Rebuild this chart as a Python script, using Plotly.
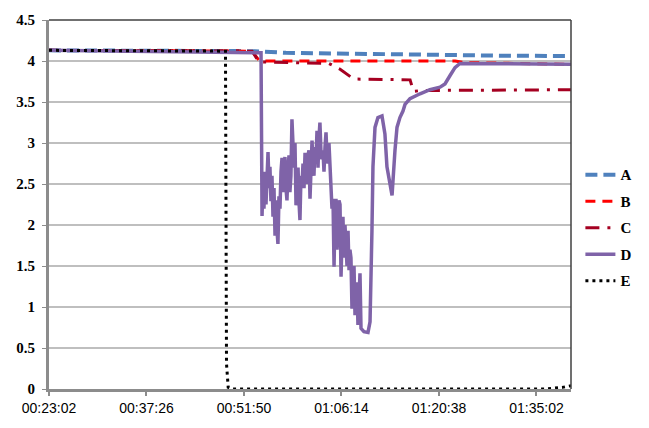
import pandas as pd
import plotly.graph_objects as go

start_time = "2000-01-01 00:23:02"
tick_labels = ["00:23:02", "00:37:26", "00:51:50", "01:06:14", "01:20:38", "01:35:02"]
x_end_s = 4626

# elapsed seconds from 00:23:02, and values
a_t = [0, 1825, 2100, 3000, 4000, 4626]
a_v = [4.13, 4.12, 4.10, 4.08, 4.065, 4.06]

b_t = [0, 1800, 1860, 1900, 2300, 3600, 3686, 4626]
b_v = [4.13, 4.12, 4.01, 4.00, 4.00, 4.00, 3.98, 3.96]

c_t = [0, 1800, 1860, 2400, 2480, 2580, 2700, 3200, 3230, 3300, 4626]
c_v = [4.13, 4.12, 3.99, 3.98, 3.97, 3.90, 3.78, 3.77, 3.63, 3.64, 3.65]

d_t = [0, 895, 1825, 1879, 1888, 1897, 1905, 1914, 1923, 1932, 1941, 1950, 1958,
       1967, 1976, 1985, 1994, 2003, 2012, 2020, 2029, 2038, 2047, 2056, 2065,
       2074, 2082, 2091, 2100, 2109, 2118, 2127, 2135, 2144, 2153, 2162, 2171,
       2180, 2189, 2198, 2207, 2215, 2224, 2233, 2242, 2251, 2260, 2269, 2277,
       2286, 2295, 2304, 2313, 2322, 2331, 2340, 2348, 2357, 2366, 2375, 2384,
       2392, 2401, 2410, 2419, 2428, 2437, 2446, 2455, 2463, 2472, 2481, 2490,
       2499, 2508, 2517, 2526, 2534, 2543, 2552, 2561, 2570, 2579, 2588, 2596,
       2605, 2614, 2623, 2632, 2641, 2650, 2659, 2667, 2676, 2685, 2694, 2703,
       2712, 2720, 2729, 2738, 2747, 2756, 2765, 2778, 2791, 2827, 2845, 2862,
       2871, 2889, 2915, 2951, 2977, 2995, 3022, 3040, 3066, 3084, 3110, 3137,
       3155, 3199, 3288, 3376, 3465, 3509, 3553, 3598, 3642, 3731, 4174, 4626]
d_v = [4.13, 4.12, 4.11, 4.10, 2.11, 2.55, 2.20, 2.65, 2.25, 2.75, 2.89, 2.45, 2.71,
       2.29, 2.60, 2.10, 2.45, 1.87, 2.30, 1.95, 1.77, 2.35, 2.20, 2.65, 2.82,
       2.40, 2.75, 2.83, 2.45, 2.30, 2.70, 2.85, 2.40, 2.60, 3.29, 2.80, 2.70,
       3.00, 2.24, 2.55, 2.70, 2.30, 2.06, 2.60, 2.48, 2.75, 2.45, 2.88, 2.55,
       2.50, 2.85, 2.91, 2.32, 2.75, 3.03, 2.70, 2.60, 2.95, 2.80, 3.15, 2.70,
       3.05, 3.25, 2.90, 2.80, 2.91, 2.65, 2.95, 3.13, 2.85, 2.75, 3.00, 2.70,
       2.60, 2.20, 2.32, 1.49, 2.10, 2.32, 1.70, 1.93, 2.30, 2.25, 1.37, 1.80,
       2.10, 1.60, 2.00, 1.75, 1.50, 1.93, 1.45, 1.70, 1.60, 0.98, 1.35, 1.50,
       0.90, 1.20, 1.30, 0.78, 1.10, 1.41, 0.74, 0.72, 0.70, 0.69, 0.82, 1.93,
       2.71, 3.19, 3.31, 3.33, 3.11, 2.71, 2.48, 2.36, 2.91, 3.19, 3.31, 3.39,
       3.47, 3.54, 3.60, 3.65, 3.68, 3.72, 3.82, 3.92, 3.97, 3.97, 3.96, 3.96]

e_t = [0, 1564, 1573, 1580, 1588, 1618, 4400, 4550, 4626]
e_v = [4.13, 4.12, 0.31, 0.10, 0.02, 0.0, 0.0, 0.02, 0.04]

t0 = pd.Timestamp(start_time)
def tx(ts):
    return [t0 + pd.Timedelta(seconds=s) for s in ts]

fig = go.Figure()
series = [
    ("A", a_t, a_v, "#4F81BD", 4, "12px,6px"),
    ("B", b_t, b_v, "#FF0000", 3, "10px,7px"),
    ("C", c_t, c_v, "#A50021", 3, "14px,8px,3px,8px"),
    ("D", d_t, d_v, "#7F63A8", 3.5, "solid"),
    ("E", e_t, e_v, "#000000", 3, "3px,4px"),
]
for name, t, v, col, w, dash in series:
    fig.add_trace(go.Scatter(x=tx(t), y=v, mode="lines", name=name,
                             legendgroup=name,
                             line=dict(color=col, width=w, dash=dash)))

fig.update_layout(
    width=649, height=428,
    margin=dict(l=49, r=78, t=16, b=32),
    paper_bgcolor="white", plot_bgcolor="white",
    showlegend=True,
    legend=dict(x=1.018, y=0.625, xanchor="left", yanchor="top",
                traceorder="grouped", tracegroupgap=4,
                font=dict(family="Liberation Serif", size=15, color="black",
                          weight="bold"),
                bgcolor="rgba(0,0,0,0)"),
    xaxis=dict(
        type="date",
        range=[t0, t0 + pd.Timedelta(seconds=x_end_s)],
        tickmode="array",
        tickvals=[t0 + pd.Timedelta(seconds=864 * i) for i in range(len(tick_labels))],
        ticktext=tick_labels,
        showgrid=False, zeroline=False,
        showline=True, linecolor="#8C8C8C", linewidth=3,
        ticks="outside", ticklen=4, tickcolor="#8C8C8C", tickwidth=2,
        tickfont=dict(family="Liberation Sans", size=14, color="black"),
    ),
    yaxis=dict(
        range=[0, 4.5], dtick=0.5, tick0=0,
        showgrid=True, gridcolor="#BFBFBF", gridwidth=1.5,
        zeroline=False,
        showline=True, linecolor="#8C8C8C", linewidth=3,
        ticks="outside", ticklen=4, tickcolor="#8C8C8C", tickwidth=1,
        tickfont=dict(family="Liberation Serif", size=15, color="black",
                      weight="bold"),
        ticklabelstandoff=4,
    ),
    shapes=[
        dict(type="line", xref="paper", yref="paper", x0=0, x1=1, y0=1, y1=1,
             line=dict(color="#404040", width=1.5)),
        dict(type="line", xref="paper", yref="paper", x0=1, x1=1, y0=0, y1=1,
             line=dict(color="#404040", width=1.5)),
    ],
)

fig.write_html("out.html")
